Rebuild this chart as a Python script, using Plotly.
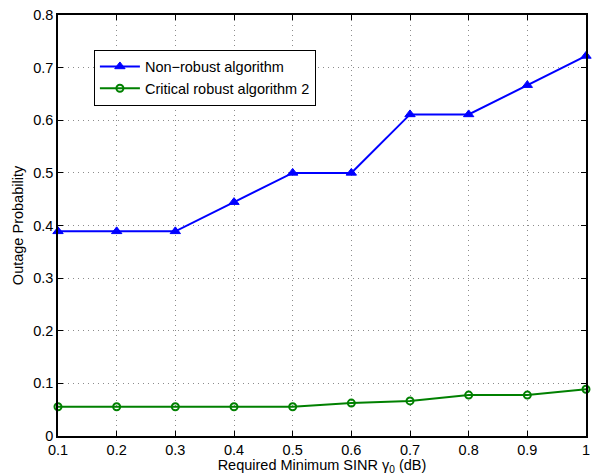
import plotly.graph_objects as go

# SINR thresholds (dB) and outage probabilities of the two schemes
gamma0 = [0.1, 0.2, 0.3, 0.4, 0.5, 0.6, 0.7, 0.8, 0.9, 1.0]
non_robust = [0.3889, 0.3889, 0.3889, 0.4444, 0.5, 0.5, 0.6111, 0.6111, 0.6667, 0.7222]
critical_robust = [0.0556, 0.0556, 0.0556, 0.0556, 0.0556, 0.0625, 0.0667, 0.0778, 0.0778, 0.0889]

x_ticks = [0.1, 0.2, 0.3, 0.4, 0.5, 0.6, 0.7, 0.8, 0.9, 1.0]
x_tick_text = ["0.1", "0.2", "0.3", "0.4", "0.5", "0.6", "0.7", "0.8", "0.9", "1"]
y_ticks = [0, 0.1, 0.2, 0.3, 0.4, 0.5, 0.6, 0.7, 0.8]
y_tick_text = ["0", "0.1", "0.2", "0.3", "0.4", "0.5", "0.6", "0.7", "0.8"]

FONT = "Liberation Sans, Arial, sans-serif"
FS = 14.5

fig = go.Figure()
fig.add_trace(go.Scatter(
    x=gamma0, y=non_robust, mode="lines+markers",
    name="Non\u2212robust algorithm",
    line=dict(color="#0000ff", width=2),
    marker=dict(symbol="triangle-up", size=9, color="#0000ff",
                line=dict(color="#0000ff", width=1)),
    cliponaxis=False,
))
fig.add_trace(go.Scatter(
    x=gamma0, y=critical_robust, mode="lines+markers",
    name="Critical robust algorithm 2",
    line=dict(color="#008000", width=2),
    marker=dict(symbol="circle-open", size=7, color="#008000",
                line=dict(color="#008000", width=2)),
    cliponaxis=False,
))

axis_common = dict(
    showline=True, linecolor="black", linewidth=1.5, mirror="ticks",
    ticks="inside", ticklen=5, tickcolor="black",
    showgrid=True, gridcolor="#8c8c8c", griddash="1px,4px", gridwidth=1,
    zeroline=False,
    tickfont=dict(family=FONT, size=FS, color="black"),
)

fig.update_xaxes(
    range=[0.1, 1.0], tickvals=x_ticks, ticktext=x_tick_text,
    title=dict(text="Required Minimum SINR \u03b3<sub>0</sub> (dB)",
               font=dict(family=FONT, size=FS, color="black"), standoff=0),
    **axis_common,
)
fig.update_yaxes(
    range=[0, 0.8], tickvals=y_ticks, ticktext=y_tick_text,
    title=dict(text="Outage Probability",
               font=dict(family=FONT, size=FS, color="black"), standoff=6),
    **axis_common,
)

fig.update_layout(
    width=596, height=475,
    margin=dict(l=58, r=6, t=15, b=39),
    paper_bgcolor="white", plot_bgcolor="white",
    font=dict(family=FONT, size=FS, color="black"),
    legend=dict(
        x=0.068, y=0.918, xanchor="left", yanchor="top",
        bgcolor="white", bordercolor="black", borderwidth=1,
        font=dict(family=FONT, size=FS, color="black"),
        tracegroupgap=0, itemwidth=40,
    ),
)

fig.write_html("out.html")
